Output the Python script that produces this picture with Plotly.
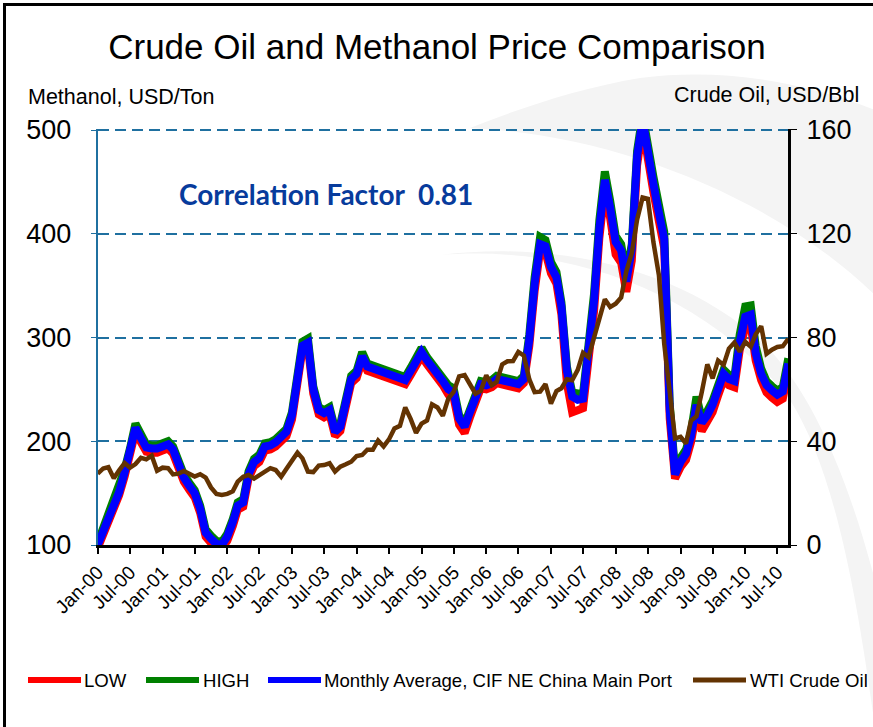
import plotly.graph_objects as go
import pandas as pd

# ---------------- data ----------------
months = pd.date_range("2000-01-01", periods=129, freq="MS")

methanol_avg = [
    100, 113, 126, 138, 151, 170, 190, 213, 203, 194,
    193, 193, 195, 197, 192, 178, 165, 157, 150, 135,
    112, 106, 101, 100, 108, 122, 138, 141, 168, 180,
    184, 195, 196, 199, 204, 209, 225, 257, 292, 295,
    250, 230, 227, 230, 209, 214, 235, 260, 265, 282,
    272, 270, 268, 266, 265, 262, 260, 259, 268, 278,
    286, 278, 272, 267, 258, 250, 247, 222, 214, 228,
    245, 255, 254, 256, 260, 259, 258, 256, 255, 260,
    298, 352, 390, 388, 368, 358, 330, 268, 243, 240,
    241, 288, 335, 405, 452, 425, 392, 384, 354, 385,
    475, 510, 475, 448, 420, 395, 230, 168, 180, 188,
    205, 235, 218, 225, 235, 250, 265, 260, 258, 295,
    320, 322, 285, 265, 254, 249, 245, 248, 275,
]

methanol_low = [
    97, 110, 123, 135, 148, 166, 186, 209, 199, 190,
    189, 189, 191, 193, 188, 174, 161, 153, 146, 131,
    108, 102, 98, 97, 104, 118, 134, 137, 164, 176,
    180, 191, 192, 195, 200, 205, 221, 252, 288, 291,
    246, 226, 223, 226, 205, 210, 231, 256, 261, 278,
    268, 266, 264, 262, 261, 258, 256, 255, 264, 274,
    282, 274, 268, 263, 254, 245, 242, 216, 208, 223,
    240, 251, 250, 252, 256, 255, 254, 252, 251, 256,
    292, 345, 384, 382, 362, 352, 322, 256, 228, 230,
    232, 279, 325, 396, 443, 415, 380, 372, 344, 374,
    466, 503, 468, 440, 412, 386, 222, 164, 175, 182,
    199, 228, 210, 219, 228, 244, 259, 254, 252, 288,
    310, 312, 278, 259, 247, 242, 238, 241, 268,
]

methanol_high = [
    102, 116, 129, 141, 154, 173, 193, 217, 207, 197,
    196, 196, 198, 200, 195, 181, 168, 160, 153, 138,
    115, 109, 104, 103, 111, 125, 141, 144, 171, 183,
    187, 198, 199, 202, 207, 212, 228, 261, 296, 299,
    253, 233, 230, 233, 212, 217, 238, 263, 268, 286,
    275, 273, 271, 269, 268, 265, 263, 262, 271, 281,
    290, 281, 275, 270, 261, 254, 251, 225, 217, 231,
    248, 258, 257, 259, 263, 262, 261, 259, 258, 263,
    303, 358, 397, 394, 373, 363, 334, 272, 247, 246,
    246, 293, 342, 413, 460, 432, 398, 390, 360, 390,
    480, 515, 482, 455, 428, 402, 236, 172, 184, 192,
    209, 243, 222, 229, 239, 254, 269, 264, 262, 303,
    330, 331, 292, 270, 258, 253, 249, 252, 280,
]

wti = [
    27.5, 29.5, 30.0, 25.7, 28.8, 31.6, 29.8, 31.2, 33.6, 33.0,
    34.4, 28.6, 29.8, 29.6, 27.2, 27.5, 28.5, 27.6, 26.4, 27.3,
    26.0, 22.2, 19.7, 19.3, 19.7, 20.7, 24.4, 26.3, 27.0, 25.6,
    26.9, 28.3, 29.6, 28.9, 26.3, 29.4, 32.8, 35.6, 33.4, 28.3,
    28.1, 30.6, 30.8, 31.5, 28.3, 30.2, 31.1, 32.1, 34.3, 34.7,
    36.7, 36.7, 40.3, 38.0, 40.7, 44.9, 45.9, 53.0, 48.5, 43.2,
    46.8, 48.0, 54.2, 53.0, 49.8, 56.4, 59.0, 65.0, 65.5, 62.3,
    58.3, 59.4, 65.4, 61.6, 62.9, 69.6, 70.8, 70.9, 74.4, 73.0,
    63.8, 58.9, 59.1, 62.0, 54.5, 59.3, 60.4, 63.9, 63.5, 67.5,
    74.1, 72.4, 79.9, 85.8, 94.7, 91.7, 93.0, 95.4, 105.4, 112.5,
    125.4, 133.9, 133.4, 116.7, 104.0, 77.5, 57.3, 41.1, 41.7, 39.1,
    47.9, 49.6, 59.0, 69.6, 64.2, 71.1, 69.4, 75.7, 78.0, 74.5,
    78.3, 76.4, 81.2, 84.3, 73.7, 75.3, 76.3, 76.6, 79.5,
]

left_ticks = [100, 200, 300, 400, 500]
right_ticks = [0, 40, 80, 120, 160]

series_names = ["LOW", "HIGH", "Monthly Average, CIF NE China Main Port", "WTI Crude Oil"]
series_colors = ["#ff0000", "#008000", "#0000ff", "#633302"]

# ---------------- geometry helpers ----------------
W, H = 873, 727
FONT = "Liberation Sans, Arial, sans-serif"


def px(x):
    return x / W


def py(y):
    return 1 - y / H


# ---------------- figure ----------------
fig = go.Figure()

fig.add_trace(go.Scatter(x=months, y=methanol_low, name=series_names[0], mode="lines",
                         line=dict(color=series_colors[0], width=8)))
fig.add_trace(go.Scatter(x=months, y=methanol_high, name=series_names[1], mode="lines",
                         line=dict(color=series_colors[1], width=8)))
fig.add_trace(go.Scatter(x=months, y=methanol_avg, name=series_names[2],
                         mode="lines", line=dict(color=series_colors[2], width=8)))
fig.add_trace(go.Scatter(x=months, y=wti, name=series_names[3], mode="lines",
                         yaxis="y2", line=dict(color=series_colors[3], width=4.5)))

grid_col = "#1f70a0"

fig.update_layout(
    width=W, height=H,
    margin=dict(l=0, r=0, t=0, b=0, pad=0, autoexpand=False),
    paper_bgcolor="white",
    plot_bgcolor="rgba(0,0,0,0)",
    font=dict(family=FONT, color="black"),
    showlegend=False,
    title=dict(text="Crude Oil and Methanol Price Comparison",
               x=px(437), xanchor="center", y=py(47), yanchor="middle",
               font=dict(size=35, family=FONT, color="black")),
    xaxis=dict(
        domain=[px(97.7), px(788.3)],
        type="date",
        range=[months[0], months[-1]],
        tick0="2000-01-01", dtick="M6", tickformat="%b-%y",
        tickangle=-45,
        ticks="outside", ticklen=6, tickwidth=1.5, tickcolor="black",
        showline=True, linecolor="black", linewidth=2.5,
        showgrid=False, zeroline=False, automargin=False,
        tickfont=dict(size=19, family=FONT, color="black"),
        anchor="y",
    ),
    yaxis=dict(
        domain=[py(545), py(129)],
        range=[100, 501], tickvals=left_ticks,
        showgrid=True, gridcolor=grid_col, gridwidth=2, griddash="11px,6px",
        showline=True, linecolor=grid_col, linewidth=2,
        ticks="outside", ticklen=5, tickcolor=grid_col,
        tickfont=dict(size=27, family=FONT, color="black"),
        ticklabelstandoff=14, automargin=False,
        zeroline=False, anchor="x",
    ),
    yaxis2=dict(
        domain=[py(545), py(129)],
        range=[0, 160.32], tickvals=right_ticks,
        overlaying="y", side="right", anchor="x",
        showgrid=False, zeroline=False, automargin=False,
        showline=True, linecolor="black", linewidth=2.5,
        ticks="outside", ticklen=6, tickcolor="black",
        tickfont=dict(size=27, family=FONT, color="black"),
        ticklabelstandoff=4,
    ),
)

# axis labels and correlation text
fig.add_annotation(text="Methanol, USD/Ton", xref="paper", yref="paper",
                   x=px(26), y=py(97), xanchor="left", yanchor="middle",
                   showarrow=False, font=dict(size=21.5, family=FONT, color="black"))
fig.add_annotation(text="Crude Oil, USD/Bbl", xref="paper", yref="paper",
                   x=px(861), y=py(95), xanchor="right", yanchor="middle",
                   showarrow=False, font=dict(size=21.5, family=FONT, color="black"))
fig.add_annotation(text="<b>Correlation Factor\u00a0 0.81</b>", xref="paper", yref="paper",
                   x=px(326), y=py(194), xanchor="center", yanchor="middle",
                   showarrow=False, font=dict(size=28, family="Lato, sans-serif", color="#073b9c"))

# ---------------- legend (drawn as line samples + labels) ----------------
legend_y = 680
legend_items = [  # (line x0, line x1, text x, line width)
    (28, 81, 82, 6),
    (146, 199, 201, 6),
    (268, 321, 322, 6),
    (693, 746, 748, 5),
]
for (lx0, lx1, tx, lw), name, col in zip(legend_items, series_names, series_colors):
    fig.add_shape(type="line", xref="paper", yref="paper",
                  x0=px(lx0), x1=px(lx1), y0=py(legend_y), y1=py(legend_y),
                  line=dict(color=col, width=lw), layer="above")
    fig.add_annotation(text=name, xref="paper", yref="paper",
                       x=px(tx), y=py(legend_y), xanchor="left", yanchor="middle",
                       showarrow=False,
                       font=dict(size=18.6, family=FONT, color="black"))


# ---------------- decorative background swooshes ----------------
def to_paper_path(cmds):
    out = []
    for c in cmds:
        op = c[0]
        nums = c[1:]
        pts = []
        for i in range(0, len(nums), 2):
            pts.append(f"{px(nums[i]):.4f},{py(nums[i + 1]):.4f}")
        out.append(op + " " + " ".join(pts))
    return " ".join(out) + " Z"


band_a = [("M", 470, 128), ("C", 620, 135, 780, 200, 880, 300),
          ("L", 880, 112), ("C", 800, 80, 720, 68, 640, 78),
          ("C", 580, 88, 520, 108, 470, 128)]
band_b = [("M", 440, 255), ("C", 560, 245, 700, 285, 790, 400),
          ("C", 835, 470, 858, 600, 876, 735), ("L", 880, 735), ("L", 880, 600),
          ("C", 850, 480, 815, 400, 770, 350),
          ("C", 690, 270, 560, 240, 440, 255)]

for b in (band_a, band_b):
    fig.add_shape(type="path", xref="paper", yref="paper", layer="below",
                  path=to_paper_path(b), fillcolor="#f4f4f4",
                  line=dict(width=0))

# outer border of the chart frame
fig.add_shape(type="rect", xref="paper", yref="paper",
              x0=px(4.5), x1=px(900), y0=py(760), y1=py(4.5),
              line=dict(color="black", width=3), layer="above")

fig.write_html("out.html", config={"displayModeBar": False},
               post_script="document.body.style.margin='0px';")
